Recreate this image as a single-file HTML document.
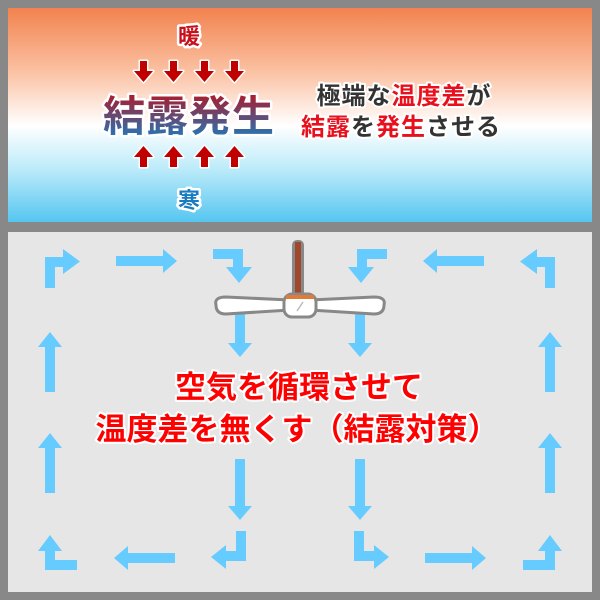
<!DOCTYPE html>
<html><head><meta charset="utf-8"><style>
html,body{margin:0;padding:0;background:#888;}
svg{display:block;}
text{font-family:"Liberation Sans","Noto Sans CJK JP",sans-serif;font-weight:bold;}
</style></head><body>
<svg width="600" height="600" viewBox="0 0 600 600" xmlns="http://www.w3.org/2000/svg">
<defs>
<linearGradient id="bg" x1="0" y1="0" x2="0" y2="1">
<stop offset="0" stop-color="#F2824E"/>
<stop offset="0.3" stop-color="#FBC2A4"/>
<stop offset="0.55" stop-color="#FFFFFF"/>
<stop offset="0.75" stop-color="#BDEBFA"/>
<stop offset="1" stop-color="#55C6F0"/>
</linearGradient>
<linearGradient id="tg" x1="0" y1="0" x2="0" y2="1">
<stop offset="0" stop-color="#B01828"/>
<stop offset="1" stop-color="#1A7CC0"/>
</linearGradient>
</defs>
<rect width="600" height="600" fill="#888"/>
<rect x="8" y="8" width="584" height="214" fill="url(#bg)"/>
<rect x="8" y="232" width="584" height="360" fill="#E6E6E6"/>

<g stroke="#fff" stroke-width="5" paint-order="stroke" stroke-linejoin="round">
<text x="189" y="44" font-size="22" text-anchor="middle" fill="#C8101C">暖</text>
<text x="189" y="208" font-size="22" text-anchor="middle" fill="#1A7CC0">寒</text>
<text x="189" y="131" font-size="42" text-anchor="middle" fill="url(#tg)" letter-spacing="1">結露発生</text>
</g>
<g fill="#C00000" stroke="#fff" stroke-width="3" paint-order="stroke" stroke-linejoin="round">
<path id="dn" d="M140 61h7v10h6l-9.5 11l-9.5-11h6z"/>
<use href="#dn" x="30"/><use href="#dn" x="61"/><use href="#dn" x="91"/>
<path id="up" d="M140 167h7v-10h6l-9.5-11l-9.5 11h6z"/>
<use href="#up" x="30"/><use href="#up" x="61"/><use href="#up" x="91"/>
</g>
<g stroke="#fff" stroke-width="4" paint-order="stroke" stroke-linejoin="round" font-size="24" text-anchor="middle" letter-spacing="1">
<text x="404" y="104"><tspan fill="#333">極端な</tspan><tspan fill="#E8101C">温度差</tspan><tspan fill="#333">が</tspan></text>
<text x="401" y="135"><tspan fill="#E8101C">結露</tspan><tspan fill="#333">を</tspan><tspan fill="#E8101C">発生</tspan><tspan fill="#333">させる</tspan></text>
</g>

<g fill="#66CCFF">
<g id="half">
<path d="M45 288V257h18v-8l17 12.5l-17 12.5v-7h-8v21z"/>
<path d="M116 256h47v-7l14 12l-14 12v-7h-47z"/>
<path d="M213 249h30v18h9l-13 16l-13-16h7v-8h-20z"/>
<path d="M235 314h10v29h7l-12 14l-12-14h7z"/>
<path d="M45 392v-45h-7l12-15l12 15h-7v45z"/>
<path d="M45 493v-45h-7l12-15l12 15h-7v45z"/>
<path d="M235 459h10v47h7l-12 14l-12-14h7z"/>
<path d="M236 531h10v30h-20v8l-15-12l15-12v6h10z"/>
<path d="M175 553v10h-47v7l-14-12l14-12v7z"/>
<path d="M45 570V551h-7l12-16l12 16h-7v9h22v10z"/>
</g>
<use href="#half" transform="translate(600,0) scale(-1,1)"/>
</g>

<g>
<rect x="292" y="240" width="12" height="58" rx="5" fill="#888"/>
<rect x="295" y="242" width="6" height="54" fill="#A0482C"/>
<path d="M216 305 Q214 297 226 297 L290 300 L310 300 L374 297 Q386 297 384 305 Q384 314 374 314 L310 310 L290 310 L226 314 Q216 314 216 305z" fill="#fff" stroke="#888" stroke-width="3"/>
<rect x="284" y="294" width="32" height="23" rx="8" fill="#fff" stroke="#888" stroke-width="3"/>
<rect x="286" y="295" width="28" height="4" fill="#E07B3A"/>
<path d="M297 311 L303 302" stroke="#bbb" stroke-width="1.5"/>
</g>

<g stroke="#fff" stroke-width="4" paint-order="stroke" stroke-linejoin="round" fill="#FF0000" text-anchor="middle">
<text x="299" y="398" font-size="31">空気を循環させて</text>
<text x="297" y="440" font-size="31">温度差を無くす（結露対策）</text>
</g>
</svg>
</body></html>
